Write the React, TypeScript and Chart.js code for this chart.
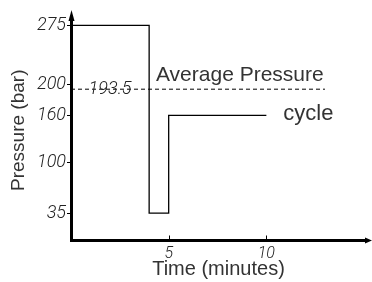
import React, { useEffect, useRef } from "react";
import { Chart, registerables } from "chart.js";

Chart.register(...registerables);

// ---- data ----
const STEP_X = [0, 4, 5, 10];
const STEP_Y = [275, 35, 160, 160];
const AVG_VALUE = 193.5;
const AVG_X = [0, 13];
const Y_TICKS = [35, 100, 160, 200, 275];
const X_TICKS = [5, 10];
const X_MAX = 15.1;
const Y_MAX = 282;
const ANNOTATIONS = [
  { text: "Average Pressure", x: 4.35, y: 204 },
  { text: "cycle", x: 10.87, y: 154 },
];
const AVG_LABEL = { text: "193.5", x: 2.0 };

const TICK_FONT = "Roboto";
const TITLE_FONT = "'Liberation Sans', Arial, sans-serif";

const overlayPlugin = {
  id: "overlay",
  afterDraw(chart: any) {
    const ctx = chart.ctx;
    const xs = chart.scales.x;
    const ys = chart.scales.y;
    const area = chart.chartArea;
    ctx.save();
    // inside x tick marks
    ctx.strokeStyle = "#000";
    ctx.lineWidth = 1;
    xs.ticks.forEach((t: any) => {
      const px = Math.round(xs.getPixelForValue(t.value)) + 0.5;
      ctx.beginPath();
      ctx.moveTo(px, area.bottom - 1);
      ctx.lineTo(px, area.bottom - 5);
      ctx.stroke();
    });
    // arrows
    const ax = ys.right + 0.5;
    ctx.fillStyle = "#000";
    ctx.beginPath();
    ctx.moveTo(ax, area.top - 10);
    ctx.lineTo(ax - 3, area.top + 1);
    ctx.lineTo(ax + 3, area.top + 1);
    ctx.closePath();
    ctx.fill();
    const ay = area.bottom;
    ctx.beginPath();
    ctx.moveTo(chart.width, ay);
    ctx.lineTo(area.right - 1, ay - 3);
    ctx.lineTo(area.right - 1, ay + 3);
    ctx.closePath();
    ctx.fill();
    // annotations
    ctx.fillStyle = "#333";
    ctx.textAlign = "left";
    ctx.textBaseline = "alphabetic";
    ANNOTATIONS.forEach((a, i) => {
      ctx.font = (i === 1 ? "22px " : "21px ") + TITLE_FONT;
      ctx.fillText(a.text, xs.getPixelForValue(a.x), ys.getPixelForValue(a.y));
    });
    // avg value label
    ctx.fillStyle = "#222";
    ctx.font = "italic 300 18px " + TICK_FONT;
    ctx.textAlign = "center";
    ctx.textBaseline = "middle";
    ctx.fillText(AVG_LABEL.text, xs.getPixelForValue(AVG_LABEL.x), ys.getPixelForValue(AVG_VALUE));
    ctx.restore();
  },
};

export default function App() {
  const ref = useRef<HTMLCanvasElement | null>(null);
  useEffect(() => {
    document.body.style.margin = "0";
    const canvas = ref.current!;
    const chart = new Chart(canvas, {
      type: "line",
      data: {
        datasets: [
          {
            data: STEP_X.map((x, i) => ({ x, y: STEP_Y[i] })),
            stepped: "before" as any,
            borderColor: "#000",
            borderWidth: 1.3,
            pointRadius: 0,
            fill: false,
          },
          {
            data: AVG_X.map((x) => ({ x, y: AVG_VALUE })),
            borderColor: "#000",
            borderWidth: 1,
            borderDash: [4, 3],
            pointRadius: 0,
            fill: false,
          },
        ],
      },
      options: {
        animation: false,
        responsive: false,
        maintainAspectRatio: false,
        layout: { padding: { top: 20, right: 6, left: 0, bottom: 0 } },
        plugins: { legend: { display: false }, tooltip: { enabled: false } },
        scales: {
          x: {
            type: "linear",
            min: 0,
            max: X_MAX,
            afterFit: (s: any) => {
              s.height = 41.5;
            },
            afterBuildTicks: (s: any) => {
              s.ticks = X_TICKS.map((v) => ({ value: v }));
            },
            grid: { display: true, drawOnChartArea: false, drawTicks: false },
            border: { display: true, width: 3, color: "#000" },
            ticks: {
              padding: 4,
              color: "#222",
              font: { family: TICK_FONT, size: 16, style: "italic", weight: "300" as any },
              maxRotation: 0,
            },
            title: {
              display: true,
              text: "Time (minutes)",
              color: "#333",
              font: { family: TITLE_FONT, size: 20 },
              padding: { top: 0, bottom: 1 },
            },
          },
          y: {
            type: "linear",
            min: 0,
            max: Y_MAX,
            afterFit: (s: any) => {
              s.width = 71;
            },
            afterBuildTicks: (s: any) => {
              s.ticks = Y_TICKS.map((v) => ({ value: v }));
            },
            grid: { display: true, drawOnChartArea: false, drawTicks: true, tickLength: 4, color: "#000" },
            border: { display: true, width: 3, color: "#000" },
            ticks: {
              padding: 1,
              color: "#222",
              font: { family: TICK_FONT, size: 18, style: "italic", weight: "300" as any },
            },
            title: {
              display: true,
              text: "Pressure (bar)",
              color: "#333",
              font: { family: TITLE_FONT, size: 19 },
              padding: { top: 7, bottom: 0 },
            },
          },
        },
      },
      plugins: [overlayPlugin],
    });
    return () => chart.destroy();
  }, []);
  return <canvas ref={ref} width={372} height={282} style={{ display: "block" }} />;
}
